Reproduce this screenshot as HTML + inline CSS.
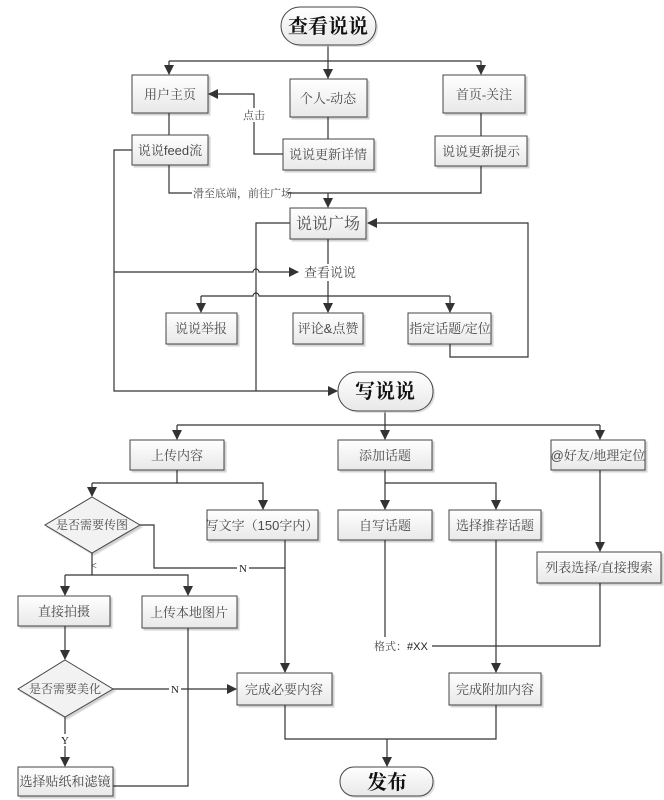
<!DOCTYPE html>
<html><head><meta charset="utf-8"><style>
html,body{margin:0;padding:0;background:#fff;}
svg{display:block;}
text{font-family:"Liberation Serif","Noto Serif CJK SC","Noto Sans CJK SC",serif;fill:#4a4a4a;}
.t{font-size:13px;}
.s{font-family:"Liberation Sans",sans-serif;}
.b{font-size:20px;font-weight:bold;fill:#111;}
</style></head><body>
<svg width="664" height="800" viewBox="0 0 664 800" xmlns="http://www.w3.org/2000/svg">
<defs>
<linearGradient id="g" x1="0" y1="0" x2="0" y2="1"><stop offset="0" stop-color="#ffffff"/><stop offset="1" stop-color="#e8e8e8"/></linearGradient>
<marker id="a" markerWidth="10" markerHeight="10" refX="9" refY="5" orient="auto" markerUnits="userSpaceOnUse"><path d="M0,0 L10,5 L0,10 z" fill="#333"/></marker>
</defs>
<g fill="none" stroke="#333" stroke-width="1.2">
<path d="M328,45 V61"/>
<path d="M169,61 H481"/>
<path d="M169,61 V74" marker-end="url(#a)"/>
<path d="M328,61 V78" marker-end="url(#a)"/>
<path d="M481,61 V74" marker-end="url(#a)"/>
<path d="M169,113 V135"/>
<path d="M328,117 V139"/>
<path d="M481,113 V136"/>
<path d="M283,154 H254 V94 H209" marker-end="url(#a)"/>
<path d="M169,165 V193 H481 V166"/>
<path d="M328,193 V207" marker-end="url(#a)"/>
<path d="M132,150 H114 V391 H337" marker-end="url(#a)"/>
<path d="M114,272 H253 a3,3 0 0 1 6,0 H298" marker-end="url(#a)"/>
<path d="M290,223 H256 V391"/>
<path d="M450,344 V357 H528 V223 H368" marker-end="url(#a)"/>
<path d="M328,239 V264"/>
<path d="M328,281 V312" marker-end="url(#a)"/>
<path d="M201,296 H253 a3,3 0 0 1 6,0 H450"/>
<path d="M201,296 V312" marker-end="url(#a)"/>
<path d="M450,296 V312" marker-end="url(#a)"/>
<path d="M385,411 V425"/>
<path d="M177,425 H600"/>
<path d="M177,425 V439" marker-end="url(#a)"/>
<path d="M385,425 V439" marker-end="url(#a)"/>
<path d="M600,425 V439" marker-end="url(#a)"/>
<path d="M177,470 V483 H263 V509" marker-end="url(#a)"/>
<path d="M92,483 H177"/>
<path d="M92,483 V496" marker-end="url(#a)"/>
<path d="M140,525 H154 V568 H285"/>
<path d="M285,540 V672" marker-end="url(#a)"/>
<path d="M92,553 V575 H188 V595" marker-end="url(#a)"/>
<path d="M65,575 H92"/>
<path d="M65,575 V595" marker-end="url(#a)"/>
<path d="M65,626 V659" marker-end="url(#a)"/>
<path d="M113,689 H236" marker-end="url(#a)"/>
<path d="M188,628 V786 H113"/>
<path d="M65,717 V766" marker-end="url(#a)"/>
<path d="M385,470 V483 H496 V509" marker-end="url(#a)"/>
<path d="M385,483 V509" marker-end="url(#a)"/>
<path d="M385,540 V637"/>
<path d="M432,646 H600 V583"/>
<path d="M600,470 V551" marker-end="url(#a)"/>
<path d="M496,540 V672" marker-end="url(#a)"/>
<path d="M285,705 V739 H496 V705"/>
<path d="M387,739 V766" marker-end="url(#a)"/>
</g>
<g stroke="#444" stroke-width="1" fill="url(#g)">
<g fill="#ccc" stroke="none" opacity="0.6">
<rect x="283" y="9" width="95" height="38" rx="19"/>
<rect x="340" y="374" width="95" height="39" rx="19"/>
<rect x="342" y="769" width="93" height="29" rx="14"/>
</g>
<rect x="281" y="7" width="95" height="38" rx="19"/>
<rect x="338" y="372" width="95" height="39" rx="19"/>
<rect x="340" y="767" width="93" height="29" rx="14"/>
<g style="filter:drop-shadow(2px 2px 0.5px rgba(0,0,0,0.18))">
<rect x="132" y="75" width="76" height="38"/>
<rect x="290" y="79" width="77" height="38"/>
<rect x="443" y="75" width="82" height="38"/>
<rect x="132" y="135" width="76" height="30"/>
<rect x="283" y="139" width="91" height="31"/>
<rect x="435" y="136" width="92" height="30"/>
<rect x="290" y="208" width="76" height="31"/>
<rect x="166" y="313" width="71" height="31"/>
<rect x="293" y="313" width="70" height="31"/>
<rect x="408" y="313" width="83" height="31"/>
<rect x="130" y="440" width="94" height="30"/>
<rect x="338" y="440" width="94" height="30"/>
<rect x="551" y="440" width="94" height="30"/>
<rect x="207" y="510" width="111" height="30"/>
<rect x="338" y="510" width="94" height="30"/>
<rect x="449" y="510" width="92" height="30"/>
<rect x="537" y="552" width="124" height="31"/>
<rect x="18" y="596" width="92" height="30"/>
<rect x="142" y="596" width="95" height="32"/>
<rect x="237" y="673" width="95" height="32"/>
<rect x="449" y="673" width="92" height="32"/>
<rect x="18" y="767" width="95" height="29"/>
<path d="M92,497 L140,525 L92,553 L45,525 Z" fill="#f2f2f2"/>
<path d="M65,660 L113,689 L65,717 L18,689 Z" fill="#f2f2f2"/>
</g>
</g>
<g text-anchor="middle">
<text class="b" x="328" y="33">查看说说</text>
<text class="b" x="385" y="398">写说说</text>
<text class="b" x="387" y="789">发布</text>
<text class="t" x="170" y="99">用户主页</text>
<text class="t" x="328" y="103">个人-动态</text>
<text class="t" x="484" y="99">首页-关注</text>
<text class="t" x="170" y="155">说说<tspan class="s">feed</tspan>流</text>
<text class="t" x="328" y="159">说说更新详情</text>
<text class="t" x="481" y="156">说说更新提示</text>
<text x="328" y="229" style="font-size:16px">说说广场</text>
<text class="t" x="201" y="333">说说举报</text>
<text class="t" x="328" y="333">评论<tspan class="s">&amp;</tspan>点赞</text>
<text class="t" x="450" y="333">指定话题/定位</text>
<text class="t" x="177" y="460">上传内容</text>
<text class="t" x="385" y="460">添加话题</text>
<text class="t" x="598" y="460"><tspan class="s">@</tspan>好友/地理定位</text>
<text class="t" x="262" y="530">写文字（<tspan class="s">150</tspan>字内）</text>
<text class="t" x="385" y="530">自写话题</text>
<text class="t" x="495" y="530">选择推荐话题</text>
<text class="t" x="599" y="572">列表选择/直接搜索</text>
<text class="t" x="64" y="616">直接拍摄</text>
<text class="t" x="189" y="617">上传本地图片</text>
<text class="t" x="284" y="694">完成必要内容</text>
<text class="t" x="495" y="694">完成附加内容</text>
<text class="t" x="65" y="786">选择贴纸和滤镜</text>
<text x="92" y="529" style="font-size:12px">是否需要传图</text>
<text x="65" y="693" style="font-size:12px">是否需要美化</text>
</g>
<rect x="302" y="264" width="50" height="16" fill="#fff"/>
<text class="t" x="304" y="277">查看说说</text>
<rect x="240" y="108" width="28" height="14" fill="#fff"/>
<text class="t" x="243" y="119" style="font-size:11px">点击</text>
<rect x="192" y="186" width="96" height="14" fill="#fff"/>
<text class="t" x="193" y="197" style="font-size:11px">滑至底端，前往广场</text>
<rect x="370" y="639" width="62" height="14" fill="#fff"/>
<text class="t" x="374" y="650" style="font-size:11px">格式：<tspan class="s" style="fill:#222">#XX</tspan></text>
<g style="font-family:'Liberation Sans',sans-serif;font-size:11px;fill:#222" text-anchor="middle">
<rect x="237" y="562" width="12" height="12" fill="#fff"/>
<text x="243" y="572" style="fill:#222">N</text>
<rect x="169" y="683" width="12" height="12" fill="#fff"/>
<text x="175" y="693" style="fill:#222">N</text>
<rect x="59" y="734" width="12" height="12" fill="#fff"/>
<text x="65" y="744" style="fill:#222">Y</text>
<text x="94" y="569" style="font-size:10px;fill:#222">&lt;</text>
</g>
</svg>
</body></html>
